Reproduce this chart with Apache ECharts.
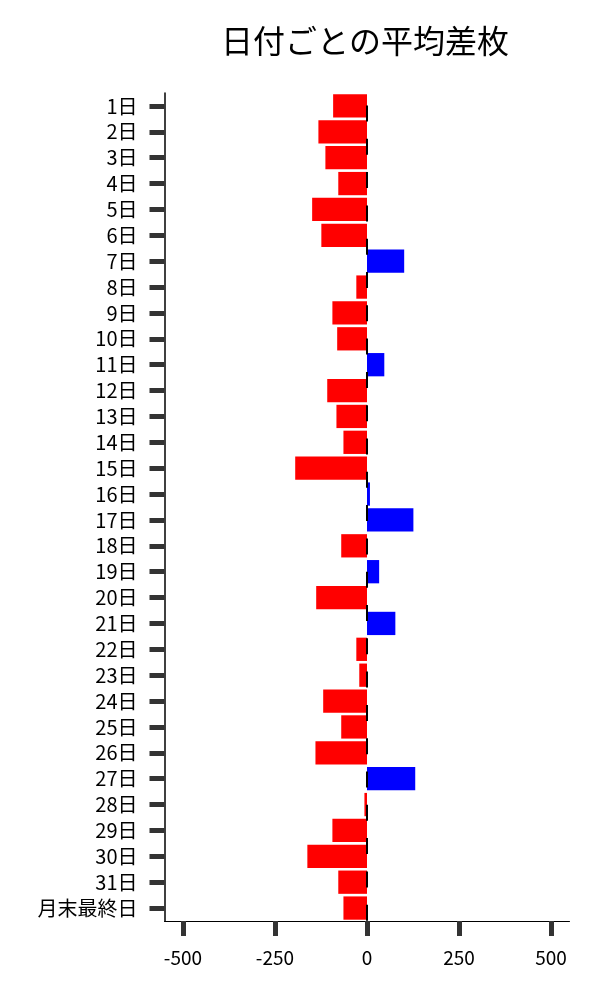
<!DOCTYPE html>
<html>
<head>
<meta charset="utf-8">
<script src="https://cdn.jsdelivr.net/npm/echarts@6/dist/echarts.min.js"></script>
<style>html,body{margin:0;padding:0;background:#fff;}#c{width:600px;height:1000px;}</style>
</head>
<body>
<div id="c"></div>
<script>
const categories = ['1日','2日','3日','4日','5日','6日','7日','8日','9日','10日','11日','12日','13日','14日','15日','16日','17日','18日','19日','20日','21日','22日','23日','24日','25日','26日','27日','28日','29日','30日','31日','月末最終日'];
const avgDiff = [-92,-132,-113,-78,-149,-124,101,-29,-94,-81,47,-108,-83,-64,-195,8,126,-70,33,-138,77,-29,-21,-119,-70,-140,131,-7,-94,-162,-78,-64];
const xTicks = [-500,-250,0,250,500];
const xMin = -550, xMax = 550;
const posColor = '#0000ff', negColor = '#ff0000';
const font = "'Noto Sans CJK JP', 'Noto Sans', sans-serif";

const chart = echarts.init(document.getElementById('c'));
chart.setOption({
  animation: false,
  backgroundColor: '#fff',
  title: {
    text: '日付ごとの平均差枚',
    left: 216, top: 20,
    textStyle: {fontFamily: font, fontSize: 32, fontWeight: 'normal', color: '#000'}
  },
  grid: {left: 164.5, right: 30.5, top: 93, bottom: 79, containLabel: false},
  xAxis: {
    type: 'value', min: xMin, max: xMax,
    axisLine: {show: true, onZero: false, lineStyle: {color: '#000', width: 1}},
    axisTick: {show: true, customValues: xTicks, length: 15, lineStyle: {color: '#333', width: 5}},
    axisLabel: {customValues: xTicks, margin: 27, fontFamily: font, fontSize: 19, color: '#000'},
    splitLine: {show: false}
  },
  yAxis: {
    type: 'category', data: categories, inverse: true,
    axisLine: {show: true, onZero: false, lineStyle: {color: '#000', width: 1.5}},
    axisTick: {show: true, interval: 0, alignWithLabel: true, length: 15, lineStyle: {color: '#333', width: 5}},
    axisLabel: {interval: 0, margin: 27, fontFamily: font, fontSize: 20, color: '#000'},
    splitLine: {show: false}
  },
  series: [{
    type: 'bar',
    data: avgDiff.map(v => ({value: v, itemStyle: {color: v >= 0 ? posColor : negColor}})),
    barCategoryGap: '10%',
    markLine: {
      silent: true, symbol: 'none', label: {show: false},
      lineStyle: {color: '#000', width: 2, type: [16, 17.3], dashOffset: 20.8},
      data: [{xAxis: 0}]
    }
  }]
});
</script>
</body>
</html>
